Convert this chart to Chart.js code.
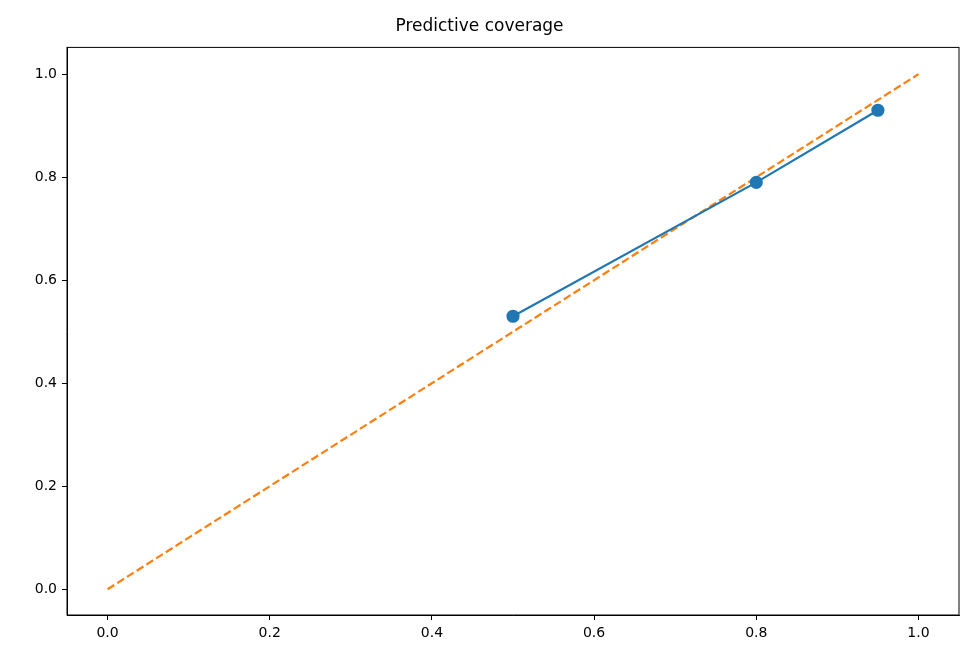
<!DOCTYPE html>
<html><head><meta charset="utf-8">
<script src="https://cdn.jsdelivr.net/npm/chart.js@4"></script>
<style>html,body{margin:0;padding:0;background:#fff}</style>
</head><body>
<div style="width:975px;height:670px"><canvas id="c"></canvas></div>
<script>
const nominal = [0.5, 0.8, 0.95];
const observed = [0.53, 0.79, 0.93];
const diagX = [0, 1];
const diagY = [0, 1];
const tickValues = [0, 0.2, 0.4, 0.6, 0.8, 1.0];

const frame = {id:'frame', afterDraw(ch){const a=ch.chartArea,c=ch.ctx;c.save();c.strokeStyle='#000';c.lineWidth=1;c.strokeRect(a.left,a.top,a.right-a.left,a.bottom-a.top);c.restore();}};
const fixTicks = s => { s.ticks = tickValues.map(v=>({value:v})); };
new Chart(document.getElementById('c'), {
  type:'scatter',
  data:{datasets:[
    {data:nominal.map((x,i)=>({x, y:observed[i]})), showLine:true, borderColor:'#1f77b4', backgroundColor:'#1f77b4', borderWidth:2.2, pointRadius:5.5, pointHoverRadius:5.5},
    {data:diagX.map((x,i)=>({x, y:diagY[i]})), showLine:true, borderColor:'#ff7f0e', borderDash:[8,3.5], borderWidth:2.2, pointRadius:0}
  ]},
  options:{
    responsive:true, maintainAspectRatio:false, animation:false,
    layout:{padding:{left:0,right:16,top:0,bottom:0}},
    plugins:{legend:{display:false}, tooltip:{enabled:false},
      title:{display:true, text:'Predictive coverage', color:'#000', font:{family:'DejaVu Sans', size:17, weight:'normal'}, padding:{top:16,bottom:11}}},
    scales:{
      x:{type:'linear', min:-0.05, max:1.05, afterBuildTicks:fixTicks, afterFit(s){s.height=55;},
        grid:{drawOnChartArea:false, tickLength:5, color:'#000'}, border:{color:'#000'},
        ticks:{color:'#000', font:{family:'DejaVu Sans', size:14}, callback:v=>v.toFixed(1), padding:5}},
      y:{type:'linear', min:-0.05, max:1.052, afterBuildTicks:fixTicks, afterFit(s){s.width=67;},
        grid:{drawOnChartArea:false, tickLength:5, color:'#000'}, border:{color:'#000'},
        ticks:{color:'#000', font:{family:'DejaVu Sans', size:14}, callback:v=>v.toFixed(1), padding:5}}
    }
  },
  plugins:[frame]
});
</script>
</body></html>
